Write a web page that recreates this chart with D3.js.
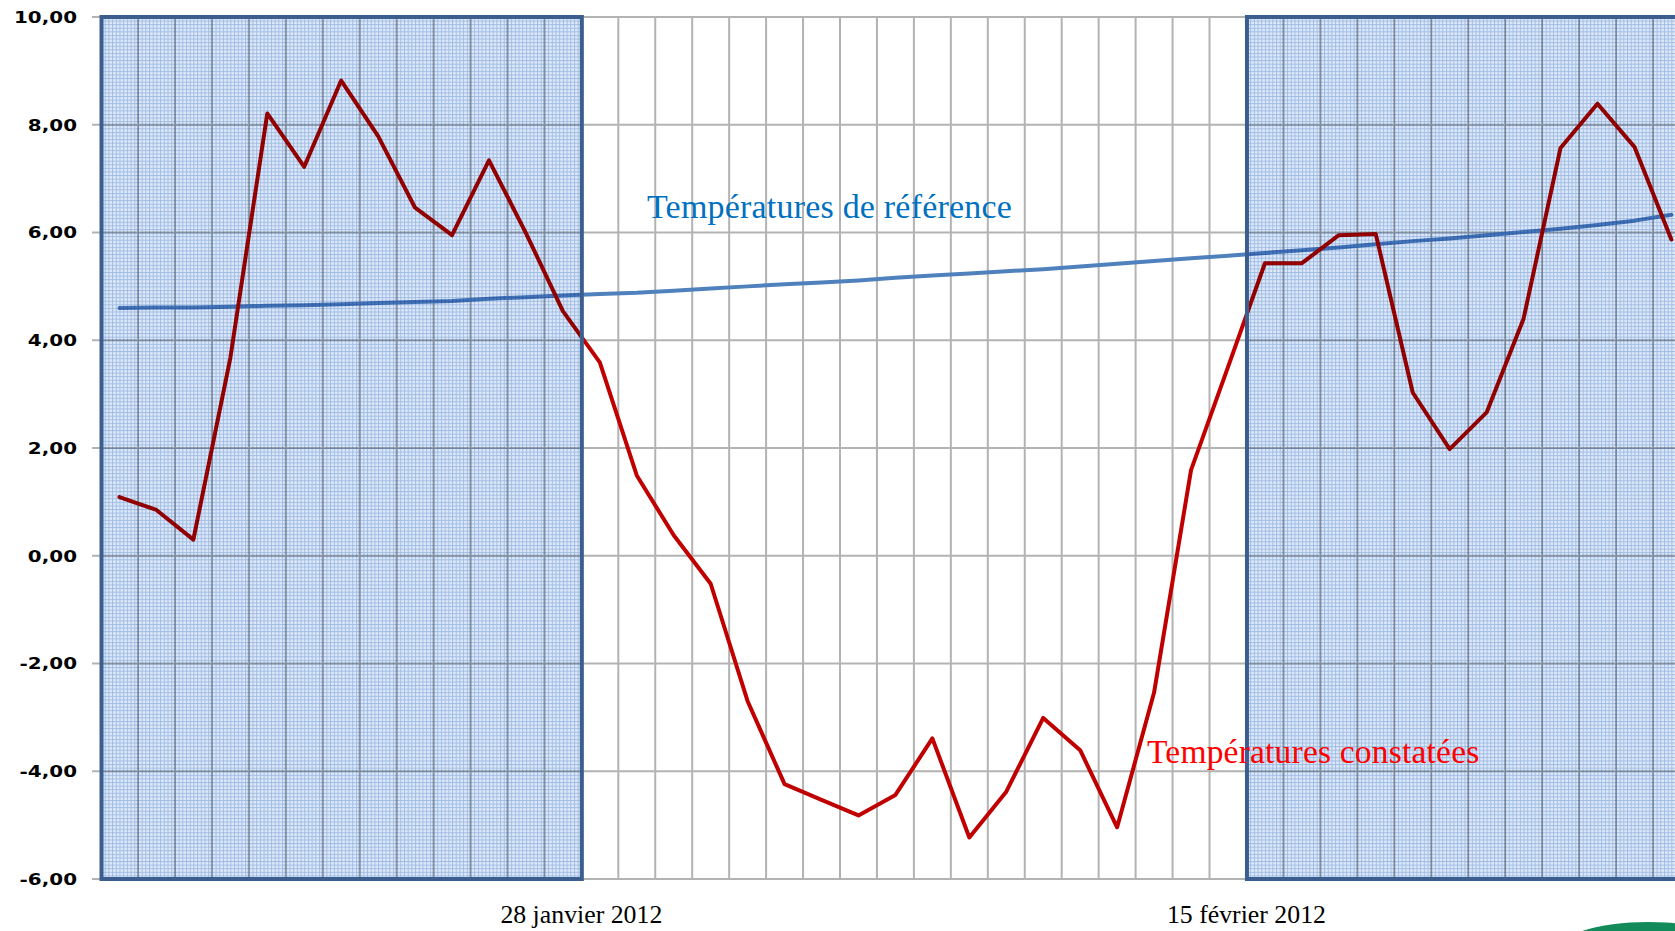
<!DOCTYPE html>
<html>
<head>
<meta charset="utf-8">
<script src="https://cdn.jsdelivr.net/npm/d3@7"></script>
<style>
  html, body { margin: 0; padding: 0; background: #ffffff; }
  svg { display: block; }
</style>
</head>
<body>
<svg id="chart" width="1675" height="931"></svg>
<script>
// ---------- DATA ----------
const dates = [
  "2012-01-15","2012-01-16","2012-01-17","2012-01-18","2012-01-19","2012-01-20","2012-01-21",
  "2012-01-22","2012-01-23","2012-01-24","2012-01-25","2012-01-26","2012-01-27","2012-01-28",
  "2012-01-29","2012-01-30","2012-01-31","2012-02-01","2012-02-02","2012-02-03","2012-02-04",
  "2012-02-05","2012-02-06","2012-02-07","2012-02-08","2012-02-09","2012-02-10","2012-02-11",
  "2012-02-12","2012-02-13","2012-02-14","2012-02-15","2012-02-16","2012-02-17","2012-02-18",
  "2012-02-19","2012-02-20","2012-02-21","2012-02-22","2012-02-23","2012-02-24","2012-02-25",
  "2012-02-26"
];
const constatees = [
  1.09, 0.85, 0.30, 3.67, 8.21, 7.22, 8.82, 7.79, 6.46, 5.95, 7.34, 5.99, 4.54, 3.59,
  1.49, 0.38, -0.52, -2.70, -4.24, -4.53, -4.82, -4.44, -3.39, -5.23, -4.38, -3.01, -3.61, -5.04,
  -2.54, 1.59, 3.50, 5.43, 5.43, 5.95, 5.97, 3.03, 1.98, 2.66, 4.40, 7.57, 8.39, 7.59,
  5.87
];
const reference = [
  4.60, 4.61, 4.61, 4.62, 4.64, 4.65, 4.67, 4.69, 4.71, 4.73, 4.77, 4.80, 4.83, 4.86,
  4.88, 4.92, 4.96, 5.00, 5.04, 5.07, 5.11, 5.16, 5.20, 5.24, 5.28, 5.32, 5.37, 5.42,
  5.47, 5.52, 5.57, 5.62, 5.67, 5.72, 5.78, 5.84, 5.89, 5.95, 6.01, 6.07, 6.14, 6.22,
  6.33
];
const yTicks = [-6, -4, -2, 0, 2, 4, 6, 8, 10];
const yTickLabels = ["-6,00", "-4,00", "-2,00", "0,00", "2,00", "4,00", "6,00", "8,00", "10,00"];
const xLabelDates = ["2012-01-28", "2012-02-15"];
const xLabels = ["28 janvier 2012", "15 février 2012"];
const shadeStart = ["2012-01-15", "2012-02-15"];
const shadeEnd = ["2012-01-28", "2012-02-27"];
const axisStart = "2012-01-15";
const axisEnd = "2012-02-27";
const seriesNames = ["Températures de référence", "Températures constatées"];

// ---------- SETUP ----------
const parse = d3.timeParse("%Y-%m-%d");
const W = 1675, H = 931;
const mLeft = 101, mTop = 17, mBottom = 879;
const dayW = 36.95;

const x = d3.scaleTime()
  .domain([parse(axisStart), parse(axisEnd)])
  .range([mLeft, mLeft + 43 * dayW]);
const y = d3.scaleLinear().domain([-6, 10]).range([mBottom, mTop]);

const mid = s => d3.timeHour.offset(parse(s), 12);

const svg = d3.select("#chart");
const defs = svg.append("defs");

svg.append("rect").attr("width", W).attr("height", H).attr("fill", "#ffffff");

defs.append("clipPath").attr("id", "plotclip")
  .append("rect").attr("x", mLeft).attr("y", mTop - 3).attr("width", W - mLeft).attr("height", mBottom - mTop + 6);

// graph paper pattern
const minorW = dayW / 10, minorH = (y(0) - y(2)) / 30;
const pat = defs.append("pattern")
  .attr("id", "paper")
  .attr("patternUnits", "userSpaceOnUse")
  .attr("x", mLeft).attr("y", mTop)
  .attr("width", minorW).attr("height", minorH);
pat.append("rect").attr("width", minorW).attr("height", minorH).attr("fill", "#dfe9f7");
pat.append("rect").attr("x", 0).attr("y", 0).attr("width", 1).attr("height", minorH).attr("fill", "#a0bde6");
pat.append("rect").attr("x", 0).attr("y", 0).attr("width", minorW).attr("height", 1).attr("fill", "#a0bde6");

const plot = svg.append("g").attr("clip-path", "url(#plotclip)");

// ---------- GRIDLINES ----------
const dayBounds = d3.timeDay.range(d3.timeDay.offset(parse(axisStart), 1), parse(axisEnd));
plot.append("g").selectAll("line").data(dayBounds).join("line")
  .attr("x1", d => x(d)).attr("x2", d => x(d))
  .attr("y1", mTop).attr("y2", mBottom)
  .attr("stroke", "#b3b3b3").attr("stroke-width", 2);

plot.append("g").selectAll("line").data(yTicks).join("line")
  .attr("x1", mLeft).attr("x2", W)
  .attr("y1", d => y(d)).attr("y2", d => y(d))
  .attr("stroke", "#b3b3b3").attr("stroke-width", 2);

svg.append("g").selectAll("line").data(yTicks).join("line")
  .attr("x1", mLeft - 9).attr("x2", mLeft)
  .attr("y1", d => y(d)).attr("y2", d => y(d))
  .attr("stroke", "#b3b3b3").attr("stroke-width", 2);

// ---------- LINES ----------
const line = (vals) => d3.line()
  .x((d, i) => x(mid(dates[i])))
  .y(d => y(d))(vals);

plot.append("path").attr("d", line(reference))
  .attr("fill", "none").attr("stroke", "#4f81bd").attr("stroke-width", 4)
  .attr("stroke-linejoin", "round").attr("stroke-linecap", "round");

plot.append("path").attr("d", line(constatees))
  .attr("fill", "none").attr("stroke", "#c00000").attr("stroke-width", 4)
  .attr("stroke-linejoin", "round").attr("stroke-linecap", "round");

// ---------- SHADED PERIODS ----------
const shades = shadeStart.map((s, i) => ({ s: parse(s), e: parse(shadeEnd[i]) }));
plot.append("g").selectAll("rect").data(shades).join("rect")
  .attr("x", d => x(d.s)).attr("y", mTop)
  .attr("width", d => x(d.e) - x(d.s)).attr("height", mBottom - mTop)
  .attr("fill", "url(#paper)")
  .style("mix-blend-mode", "multiply");

svg.append("g").selectAll("rect").data(shades).join("rect")
  .attr("x", d => x(d.s) + 0.5).attr("y", mTop)
  .attr("width", d => x(d.e) - x(d.s)).attr("height", mBottom - mTop)
  .attr("fill", "none").attr("stroke", "#3b5e8f").attr("stroke-width", 4);

// ---------- TEXT ----------
const yl = svg.append("g").selectAll("g").data(yTicks).join("g")
  .attr("transform", d => `translate(77,${y(d)}) scale(1.2,1)`);
yl.append("text")
  .attr("text-anchor", "end")
  .attr("dy", "0.36em")
  .attr("font-family", "DejaVu Sans, Verdana, sans-serif")
  .attr("font-weight", "bold")
  .attr("font-size", 16.6)
  .attr("fill", "#000000")
  .text((d, i) => yTickLabels[i]);

svg.append("g").selectAll("text").data(xLabelDates).join("text")
  .attr("x", d => x(parse(d)))
  .attr("y", 923)
  .attr("text-anchor", "middle")
  .attr("font-family", "Liberation Serif, Times New Roman, serif")
  .attr("font-size", 25.8)
  .attr("fill", "#000000")
  .text((d, i) => xLabels[i]);

svg.append("text")
  .attr("x", 647).attr("y", 218)
  .attr("font-family", "Liberation Serif, Times New Roman, serif")
  .attr("font-size", 34)
  .attr("letter-spacing", 0.2)
  .attr("fill", "#0070c0")
  .text(seriesNames[0]);

svg.append("text")
  .attr("x", 1147).attr("y", 763)
  .attr("font-family", "Liberation Serif, Times New Roman, serif")
  .attr("font-size", 33.5)
  .attr("letter-spacing", 0.2)
  .attr("fill", "#ff0000")
  .text(seriesNames[1]);

svg.append("ellipse")
  .attr("cx", 1648).attr("cy", 952).attr("rx", 92).attr("ry", 30)
  .attr("fill", "#138a5a");
</script>
</body>
</html>
